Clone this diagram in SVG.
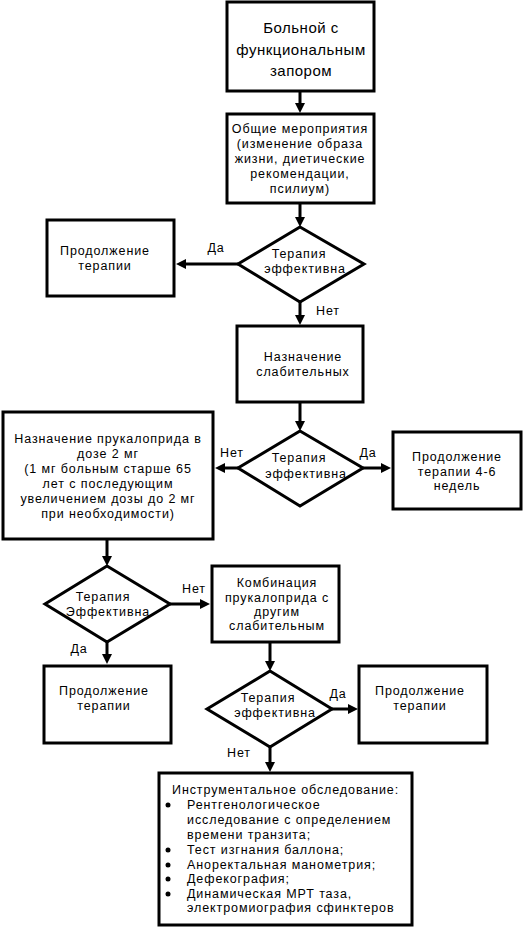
<svg xmlns="http://www.w3.org/2000/svg" width="526" height="928" viewBox="0 0 526 928">
<style>
.box{fill:#fff;stroke:#000;stroke-width:3}
.dia{fill:#fff;stroke:#000;stroke-width:3;stroke-linejoin:miter}
.t{font-family:"Liberation Sans",Arial,sans-serif;font-size:12.5px;letter-spacing:0.9px;fill:#000;text-anchor:middle}
.big{font-size:15px;letter-spacing:0.5px}
.tl{font-family:"Liberation Sans",Arial,sans-serif;font-size:12.5px;letter-spacing:0.9px;fill:#000}
.c{stroke:#000;stroke-width:3;fill:none;marker-end:url(#ah)}
</style>
<defs>
<marker id="ah" markerUnits="userSpaceOnUse" markerWidth="11" markerHeight="11" refX="3" refY="5" orient="auto">
<path d="M0,0 L10,5 L0,10 z" fill="#000"/>
</marker>
</defs>
<rect width="526" height="928" fill="#fff"/>
<g id="connectors">
<line class="c" x1="300" y1="92" x2="300" y2="106"/>
<line class="c" x1="300" y1="203" x2="300" y2="220"/>
<line class="c" x1="238" y1="264" x2="183" y2="264"/>
<line class="c" x1="300" y1="302" x2="300" y2="318"/>
<line class="c" x1="300" y1="402" x2="300" y2="424"/>
<line class="c" x1="238" y1="468" x2="222" y2="468"/>
<line class="c" x1="363" y1="468" x2="384" y2="468"/>
<line class="c" x1="107" y1="540" x2="107" y2="559"/>
<line class="c" x1="170" y1="604" x2="203" y2="604"/>
<line class="c" x1="107" y1="642" x2="107" y2="657"/>
<line class="c" x1="270" y1="642" x2="270" y2="664"/>
<line class="c" x1="332" y1="709" x2="351" y2="709"/>
<line class="c" x1="270" y1="747" x2="270" y2="765"/>
<text class="t" x="216" y="252">Да</text>
<text class="t" x="328" y="315">Нет</text>
<text class="t" x="232" y="457">Нет</text>
<text class="t" x="368" y="457">Да</text>
<text class="t" x="194" y="593">Нет</text>
<text class="t" x="79" y="653">Да</text>
<text class="t" x="338" y="698">Да</text>
<text class="t" x="239" y="757">Нет</text>
</g>
<g id="n1">
<rect class="box" x="227" y="2" width="147" height="89"/>
<text class="t big" x="301" y="33">Больной с</text>
<text class="t big" x="301" y="55">функциональным</text>
<text class="t big" x="301" y="76">запором</text>
</g>
<g id="n2">
<rect class="box" x="227" y="114" width="147" height="89"/>
<text class="t" x="300" y="133">Общие мероприятия</text>
<text class="t" x="300" y="148">(изменение образа</text>
<text class="t" x="300" y="163">жизни, диетические</text>
<text class="t" x="300" y="178">рекомендации,</text>
<text class="t" x="300" y="193">псилиум)</text>
</g>
<g id="d1">
<polygon class="dia" points="300,227 364,264 300,302 238,264"/>
<text class="t" x="299" y="258">Терапия</text>
<text class="t" x="305" y="273">эффективна</text>
</g>
<g id="n3">
<rect class="box" x="47" y="220" width="127" height="76"/>
<text class="t" x="105" y="255">Продолжение</text>
<text class="t" x="105" y="270">терапии</text>
</g>
<g id="n4">
<rect class="box" x="237" y="326" width="126" height="76"/>
<text class="t" x="303" y="361">Назначение</text>
<text class="t" x="303" y="376">слабительных</text>
</g>
<g id="d2">
<polygon class="dia" points="300,431 363,468 300,506 238,468"/>
<text class="t" x="299" y="462">Терапия</text>
<text class="t" x="306" y="478">эффективна</text>
</g>
<g id="n5">
<rect class="box" x="3" y="412" width="210" height="127"/>
<text class="t" x="108" y="443">Назначение прукалоприда в</text>
<text class="t" x="108" y="458">дозе 2 мг</text>
<text class="t" x="108" y="473">(1 мг больным старше 65</text>
<text class="t" x="108" y="488">лет с последующим</text>
<text class="t" x="108" y="503">увеличением дозы до 2 мг</text>
<text class="t" x="108" y="518">при необходимости)</text>
</g>
<g id="n6">
<rect class="box" x="393" y="432" width="128" height="77"/>
<text class="t" x="457" y="461">Продолжение</text>
<text class="t" x="457" y="476">терапии 4-6</text>
<text class="t" x="457" y="490">недель</text>
</g>
<g id="d3">
<polygon class="dia" points="107,566 170,604 107,642 45,604"/>
<text class="t" x="103" y="601">Терапия</text>
<text class="t" x="108" y="616">Эффективна</text>
</g>
<g id="n7">
<rect class="box" x="212" y="566" width="127" height="76"/>
<text class="t" x="277" y="587">Комбинация</text>
<text class="t" x="277" y="602">прукалоприда с</text>
<text class="t" x="277" y="616">другим</text>
<text class="t" x="277" y="630">слабительным</text>
</g>
<g id="n8">
<rect class="box" x="44" y="666" width="127" height="77"/>
<text class="t" x="104" y="695">Продолжение</text>
<text class="t" x="104" y="710">терапии</text>
</g>
<g id="d4">
<polygon class="dia" points="270,671 332,709 270,747 207,709"/>
<text class="t" x="268" y="702">Терапия</text>
<text class="t" x="275" y="717">эффективна</text>
</g>
<g id="n9">
<rect class="box" x="359" y="666" width="128" height="77"/>
<text class="t" x="420" y="695">Продолжение</text>
<text class="t" x="420" y="710">терапии</text>
</g>
<g id="n10">
<rect class="box" x="159" y="773" width="253" height="152"/>
<text class="tl" x="172" y="794">Инструментальное обследование:</text>
<circle cx="168" cy="805" r="2.5"/>
<circle cx="168" cy="850" r="2.5"/>
<circle cx="168" cy="865" r="2.5"/>
<circle cx="168" cy="879" r="2.5"/>
<circle cx="168" cy="894" r="2.5"/>
<text class="tl" x="187" y="809">Рентгенологическое</text>
<text class="tl" x="187" y="824">исследование с определением</text>
<text class="tl" x="187" y="839">времени транзита;</text>
<text class="tl" x="187" y="854">Тест изгнания баллона;</text>
<text class="tl" x="187" y="869">Аноректальная манометрия;</text>
<text class="tl" x="187" y="883">Дефекография;</text>
<text class="tl" x="187" y="898">Динамическая МРТ таза,</text>
<text class="tl" x="187" y="912">электромиография сфинктеров</text>
</g>
</svg>
